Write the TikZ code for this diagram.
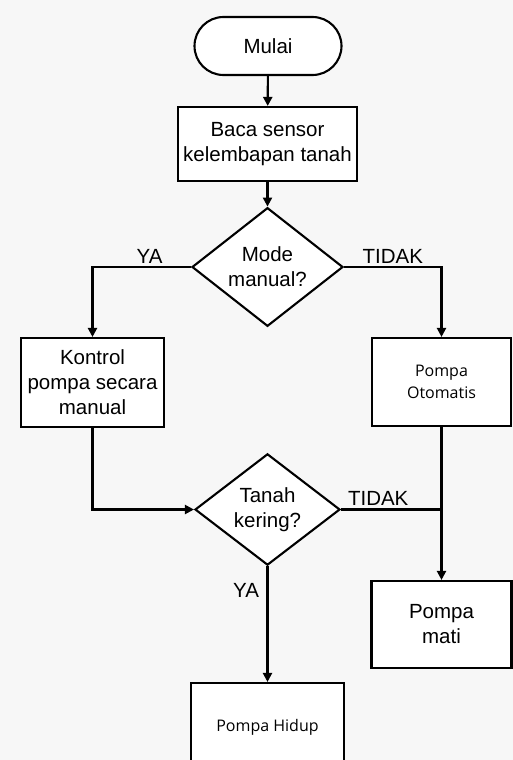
\documentclass[tikz,border=0pt]{standalone}
\usepackage{fontspec}
\setmainfont{Liberation Sans}
\newfontfamily\lightfont{Open Sans}
\usetikzlibrary{arrows.meta, shapes.geometric}

\begin{document}
\begin{tikzpicture}[x=1pt,y=-1pt,line width=2.1pt,
    font=\fontsize{20.5}{25}\selectfont,
    box/.style={draw,fill=white,align=center,inner sep=0pt},
    choice/.style={draw,fill=white,diamond,align=center,inner sep=0pt},
    flow/.style={-{Triangle[length=9pt,width=9pt]}},
    tag/.style={inner sep=2.5pt},
    light/.style={font=\lightfont\fontsize{16}{22}\selectfont}]
  \def\yes{YA}
  \def\no{TIDAK}

  \colorlet{paper}{black!3}

  \useasboundingbox (0,0) rectangle (513,760);
  \clip (0,0) rectangle (513,760);
  \fill [paper] (0,0) rectangle (513,760);

  \node [box,rounded corners=29pt,minimum width=147pt,minimum height=58pt]
    (start) at (268,46) {Mulai};
  \node [box,minimum width=179pt,minimum height=74pt]
    (read) at (267.5,144) {Baca sensor\\kelembapan tanah};
  \node [choice,minimum width=151pt,minimum height=111pt]
    (mode) at (267.5,267) {Mode\\manual?};
  \node [box,minimum width=143pt,minimum height=89pt]
    (manual) at (92.5,382.5) {Kontrol\\pompa secara\\manual};
  \node [box,light,minimum width=139pt,minimum height=88pt]
    (auto) at (441.5,382) {Pompa\\Otomatis};
  \node [choice,minimum width=145pt,minimum height=105pt]
    (dry) at (267.5,509.5) {Tanah\\kering?};
  \node [box,minimum width=140pt,minimum height=87pt]
    (off) at (441.5,624.5) {Pompa\\mati};
  \node [box,light,minimum width=153pt,minimum height=88pt]
    (on) at (267.5,727) {Pompa Hidup};

  \draw [flow] (start) -- (read);
  \draw [flow] (read) -- (mode);
  \draw [flow] (mode.west) -| node [tag,above,pos=.21] {\yes} (manual.north);
  \draw [flow] (mode.east) -| node [tag,above,pos=.25] {\no} (auto.north);
  \draw [flow] (manual.south) |- (dry.west);
  \draw [flow] (auto.south) -- (off.north);
  \draw (dry.east) -- node [tag,above,pos=.37] {\no} (dry.east -| auto.south);
  \draw [flow] (dry.south) -- node [tag,left=5pt,pos=.21] {\yes} (on.north);
\end{tikzpicture}
\end{document}
